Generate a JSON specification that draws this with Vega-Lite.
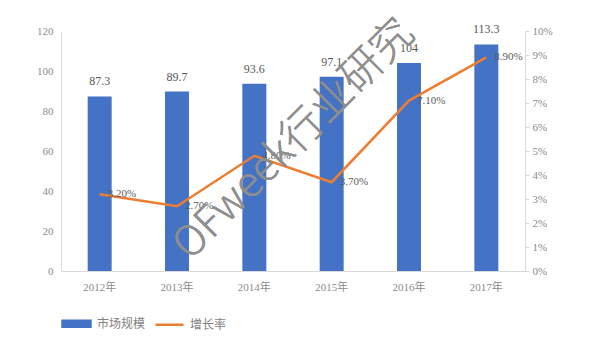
{
  "$schema": "https://vega.github.io/schema/vega-lite/v6.json",
  "width": 464,
  "height": 240,
  "autosize": {"type": "none"},
  "padding": {"left": 61, "top": 31, "right": 83, "bottom": 82},
  "background": "white",
  "config": {
    "view": {"stroke": null},
    "font": "Liberation Serif, Noto Sans CJK SC",
    "axis": {"labelFont": "Liberation Serif, Noto Sans CJK SC", "labelColor": "#8c8c8c", "labelFontSize": 11, "grid": false, "domainColor": "#d9d9d9", "tickColor": "#d9d9d9", "labelOverlap": false}
  },
  "data": {
    "values": [
      {"year": "2012年", "scale": 87.3, "rate": 0.032},
      {"year": "2013年", "scale": 89.7, "rate": 0.027},
      {"year": "2014年", "scale": 93.6, "rate": 0.048},
      {"year": "2015年", "scale": 97.1, "rate": 0.037},
      {"year": "2016年", "scale": 104, "rate": 0.071},
      {"year": "2017年", "scale": 113.3, "rate": 0.089}
    ]
  },
  "encoding": {
    "x": {
      "field": "year", "type": "ordinal", "sort": null,
      "scale": {"paddingInner": 0.69, "paddingOuter": 0.345},
      "axis": {"title": null, "labelAngle": 0, "ticks": false, "labelPadding": 10}
    }
  },
  "layer": [
    {
      "encoding": {
        "y": {"field": "scale", "type": "quantitative", "scale": {"domain": [0, 120], "nice": false},
          "axis": {"title": null, "values": [0, 20, 40, 60, 80, 100, 120], "labelOverlap": false, "ticks": false, "labelPadding": 8}}
      },
      "layer": [
        {
          "mark": {"type": "bar", "color": "#4472C4"},
          "encoding": {
            "color": {"datum": "市场规模", "type": "nominal",
              "scale": {"domain": ["市场规模", "增长率"], "range": ["#4472C4", "#ED7D31"]},
              "legend": {
                "title": null, "orient": "bottom", "direction": "horizontal", "offset": 16,
                "labelColor": "#7f7f7f", "labelFontSize": 12, "labelFont": "Liberation Serif, Noto Sans CJK SC",
                "labelOffset": 5, "columnPadding": 4, "symbolSize": 784,
                "encode": {"symbols": {"update": {
                  "shape": {"signal": "datum.value === '市场规模' ? 'M-1,-0.22H1V0.22H-1Z' : 'M-1,0H1'"},
                  "fill": {"signal": "datum.value === '市场规模' ? '#4472C4' : 'transparent'"},
                  "stroke": {"signal": "datum.value === '市场规模' ? 'transparent' : '#ED7D31'"},
                  "strokeWidth": {"value": 2.5},
                  "opacity": {"value": 1}
                }}}
              }}
          }
        },
        {
          "mark": {"type": "text", "baseline": "bottom", "dy": -8, "fontSize": 12, "color": "#595959"},
          "encoding": {
            "text": {"field": "scale", "type": "quantitative", "format": ".4~f"}
          }
        }
      ]
    },
    {
      "encoding": {
        "y": {"field": "rate", "type": "quantitative", "scale": {"domain": [0, 0.1], "nice": false},
          "axis": {"title": null, "orient": "right", "format": ".0%", "values": [0, 0.01, 0.02, 0.03, 0.04, 0.05, 0.06, 0.07, 0.08, 0.09, 0.1], "labelOverlap": false, "tickSize": 4, "labelPadding": 3}}
      },
      "layer": [
        {
          "mark": {"type": "line", "color": "#ED7D31", "strokeWidth": 2.5},
          "encoding": {
            "color": {"datum": "增长率", "type": "nominal"}
          }
        },
        {
          "mark": {"type": "text", "align": "left", "baseline": "middle", "dx": 8, "fontSize": 11, "color": "#595959"},
          "encoding": {
            "text": {"field": "rate", "type": "quantitative", "format": ".2%"}
          }
        }
      ]
    },
    {
      "mark": {"type": "text", "angle": -45, "fontSize": 42, "font": "Noto Sans CJK SC", "fontWeight": 300, "fill": "#8f8f8f", "opacity": 0.55, "dx": 56},
      "encoding": {
        "x": {"datum": "2014年"},
        "y": {"datum": 46, "scale": {"domain": [0, 120], "nice": false}, "axis": null},
        "text": {"value": "OFweek行业研究"}
      }
    }
  ],
  "resolve": {"scale": {"y": "independent"}}
}
